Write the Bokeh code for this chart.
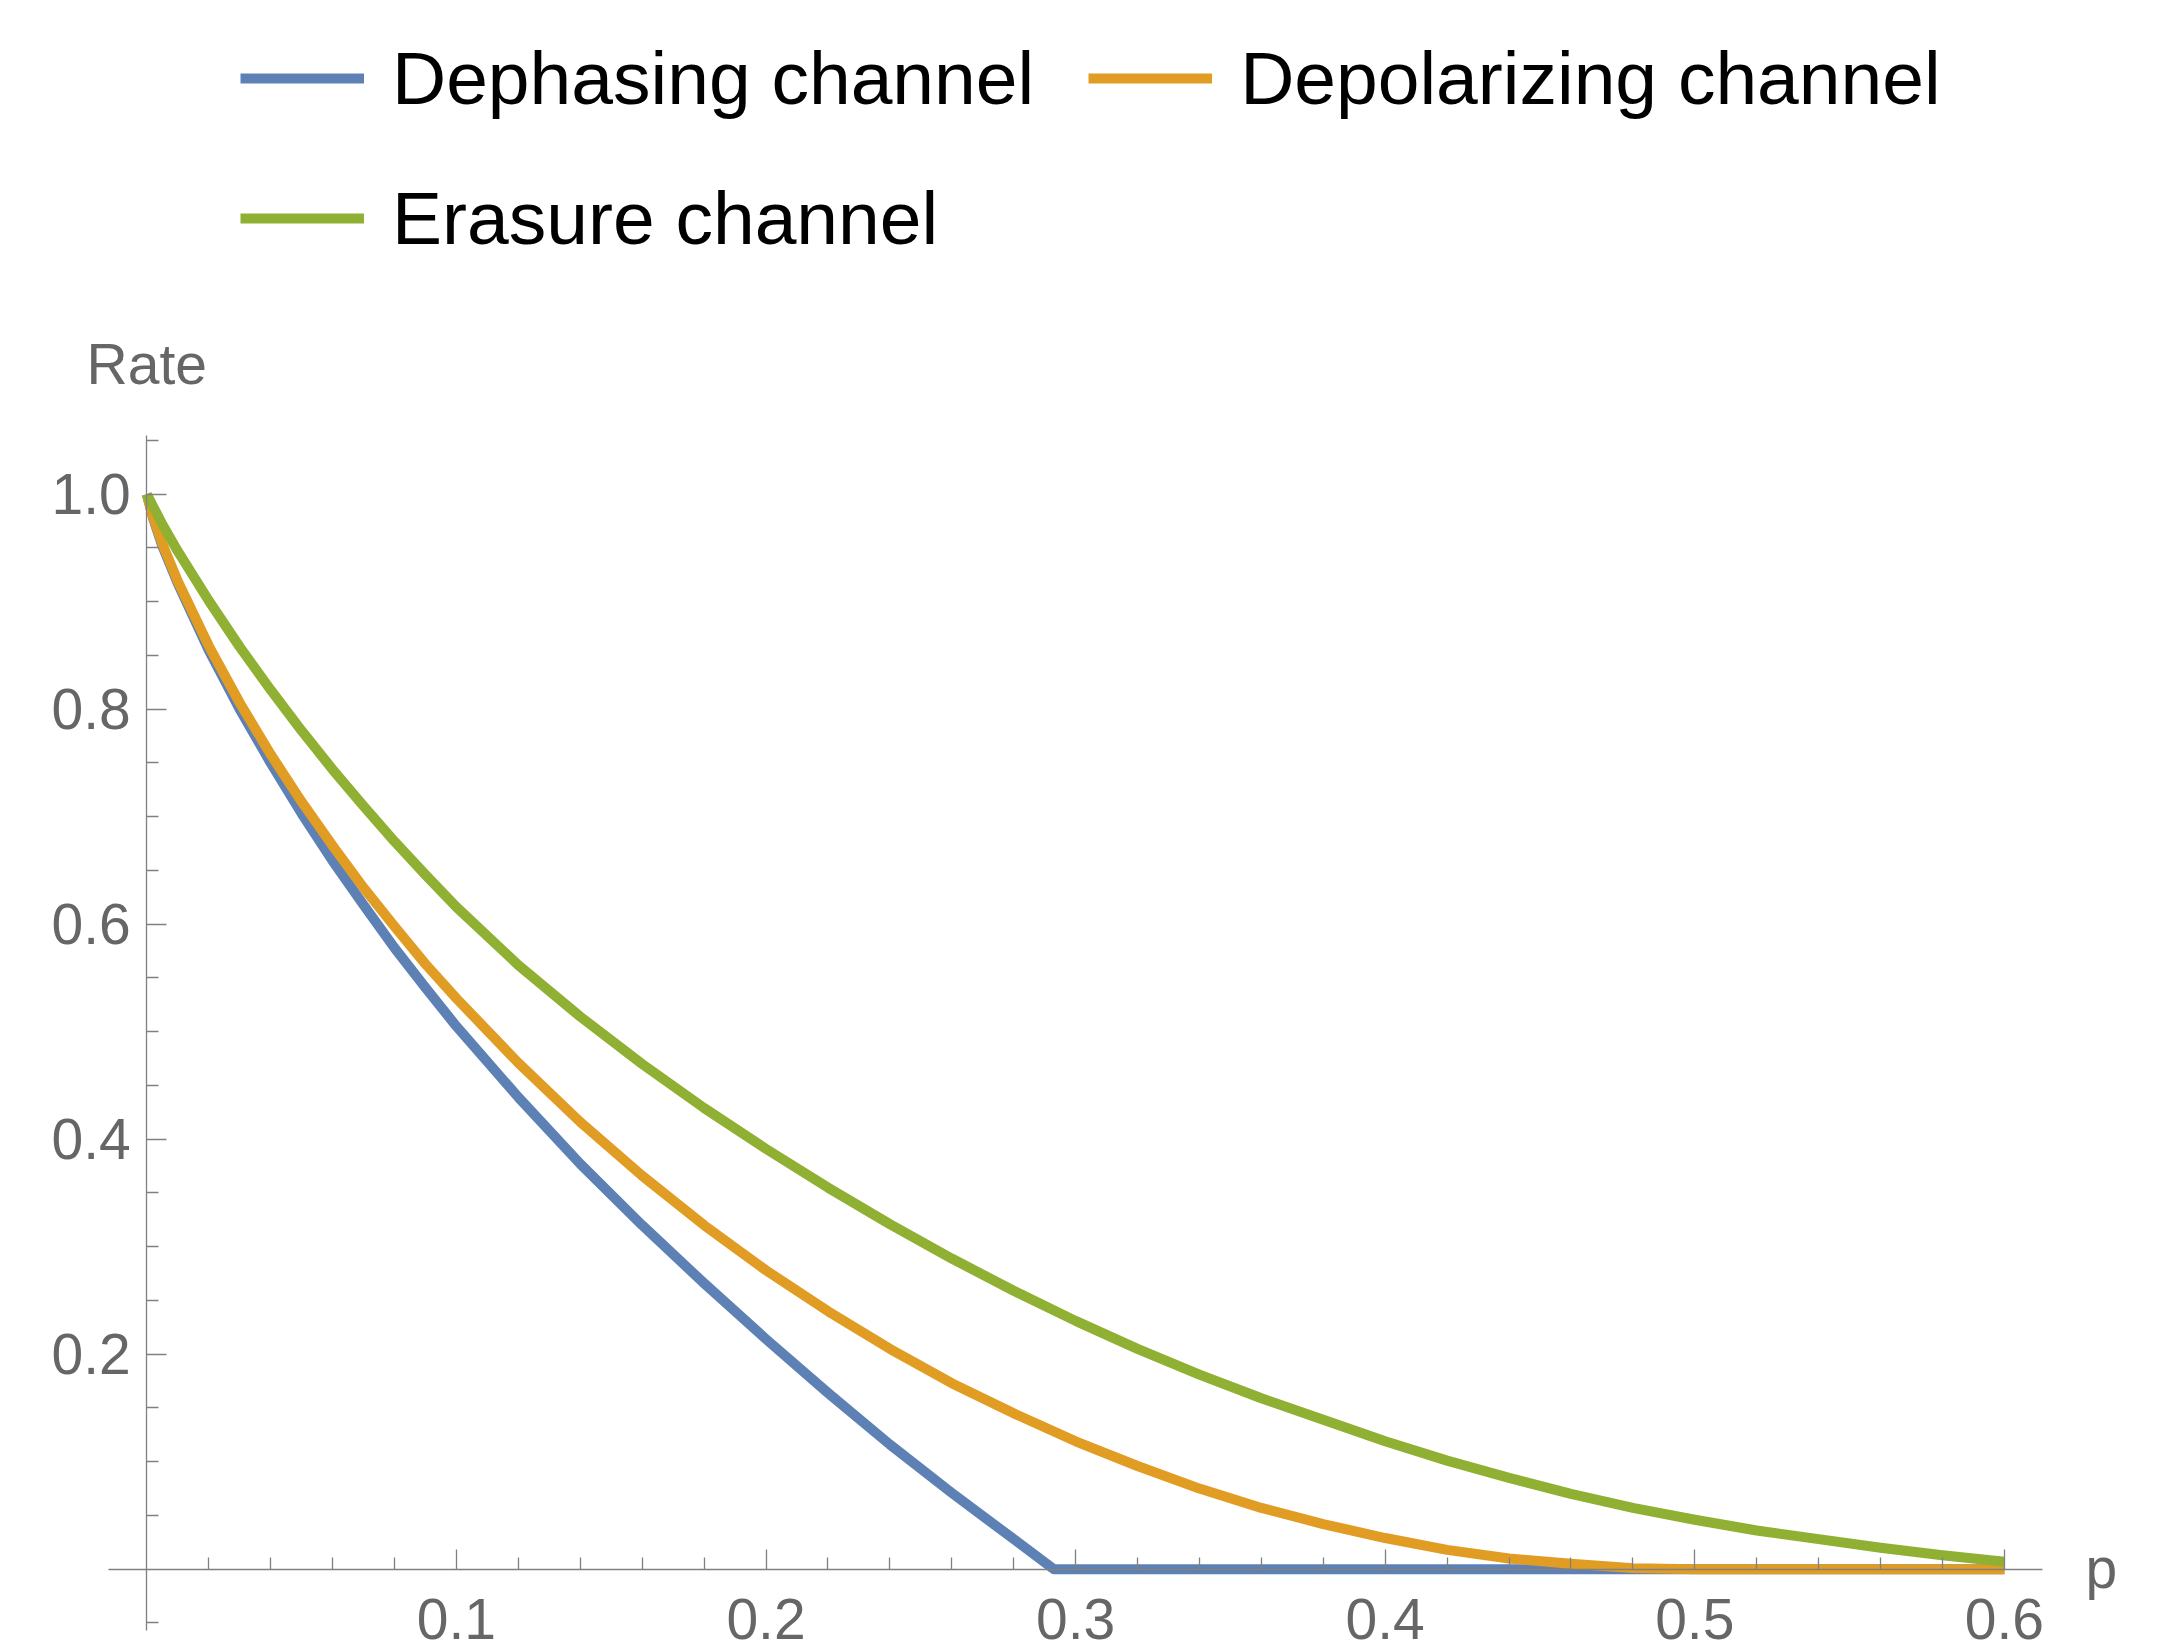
from bokeh.plotting import figure
from bokeh.models import (LinearAxis, FixedTicker, Range1d, Legend, LegendItem, Label)
from bokeh.embed import file_html
from bokeh.resources import INLINE

# ---------------- data ----------------
p_deph = [0, 0.002, 0.005, 0.01, 0.02, 0.03, 0.04, 0.05, 0.06, 0.07, 0.08, 0.09, 0.10,
          0.12, 0.14, 0.16, 0.18, 0.20, 0.22, 0.24, 0.26, 0.28, 0.293, 0.40, 0.50, 0.60]
r_deph = [1.0, 0.978, 0.952, 0.917, 0.855, 0.800, 0.750, 0.703, 0.659, 0.618, 0.578, 0.541, 0.505,
          0.439, 0.377, 0.320, 0.266, 0.214, 0.164, 0.116, 0.071, 0.028, 0.0, 0.0, 0.0, 0.0]

p_depol = [0, 0.002, 0.005, 0.01, 0.02, 0.03, 0.04, 0.05, 0.06, 0.07, 0.08, 0.09, 0.10,
           0.12, 0.14, 0.16, 0.18, 0.20, 0.22, 0.24, 0.26, 0.28, 0.30, 0.32, 0.34, 0.36,
           0.38, 0.40, 0.42, 0.44, 0.46, 0.48, 0.50, 0.55, 0.60]
r_depol = [1.0, 0.979, 0.954, 0.919, 0.859, 0.806, 0.758, 0.714, 0.673, 0.634, 0.598, 0.563, 0.531,
           0.471, 0.416, 0.366, 0.320, 0.278, 0.240, 0.205, 0.173, 0.145, 0.119, 0.096, 0.075, 0.057,
           0.042, 0.029, 0.018, 0.010, 0.005, 0.001, 0.0, 0.0, 0.0]

p_eras = [0, 0.005, 0.01, 0.02, 0.03, 0.04, 0.05, 0.06, 0.07, 0.08, 0.09, 0.10, 0.12, 0.14,
          0.16, 0.18, 0.20, 0.22, 0.24, 0.26, 0.28, 0.30, 0.32, 0.34, 0.36, 0.38, 0.40, 0.42,
          0.44, 0.46, 0.48, 0.50, 0.52, 0.54, 0.56, 0.58, 0.60]
r_eras = [1.0, 0.972, 0.947, 0.901, 0.858, 0.818, 0.780, 0.744, 0.710, 0.677, 0.646, 0.616, 0.562, 0.514,
          0.470, 0.429, 0.391, 0.355, 0.321, 0.289, 0.259, 0.231, 0.205, 0.181, 0.159, 0.139, 0.119, 0.101,
          0.085, 0.070, 0.057, 0.046, 0.036, 0.028, 0.020, 0.013, 0.007]

series_names = ["Dephasing channel", "Depolarizing channel", "Erasure channel"]
series_colors = ["#5E81B5", "#E19C24", "#8FB032"]

x_major = [0.1, 0.2, 0.3, 0.4, 0.5, 0.6]
x_major_labels = ["0.1", "0.2", "0.3", "0.4", "0.5", "0.6"]
x_minor = [0.02, 0.04, 0.06, 0.08, 0.12, 0.14, 0.16, 0.18, 0.22, 0.24, 0.26, 0.28,
           0.32, 0.34, 0.36, 0.38, 0.42, 0.44, 0.46, 0.48, 0.52, 0.54, 0.56, 0.58]
y_major = [0.2, 0.4, 0.6, 0.8, 1.0]
y_major_labels = ["0.2", "0.4", "0.6", "0.8", "1.0"]
y_minor = [-0.05, 0.05, 0.1, 0.15, 0.25, 0.3, 0.35, 0.45, 0.5, 0.55, 0.65, 0.7, 0.75,
           0.85, 0.9, 0.95, 1.05]

x_axis_bounds = (-0.0125, 0.6124)
y_axis_bounds = (-0.057, 1.0547)

# ---------------- figure ----------------
W, H = 2163, 1650
p = figure(width=W, height=H, output_backend="svg", toolbar_location=None,
           x_range=Range1d(-0.047255, 0.651389), y_range=Range1d(-0.075628, 1.459256),
           x_axis_location=None, y_axis_location=None)
p.min_border_left = 0
p.min_border_right = 0
p.min_border_top = 0
p.min_border_bottom = 0
p.outline_line_color = None
p.background_fill_color = "white"
p.border_fill_color = "white"
p.xgrid.grid_line_color = None
p.ygrid.grid_line_color = None

AX_COLOR = "#808080"
LBL_COLOR = "#666666"
FONT = "Liberation Sans"

xaxis = LinearAxis(fixed_location=0, bounds=x_axis_bounds,
                   ticker=FixedTicker(ticks=x_major, minor_ticks=x_minor),
                   major_label_overrides={v: s for v, s in zip(x_major, x_major_labels)})
yaxis = LinearAxis(fixed_location=0, bounds=y_axis_bounds,
                   ticker=FixedTicker(ticks=y_major, minor_ticks=y_minor),
                   major_label_overrides={v: s for v, s in zip(y_major, y_major_labels)})
for ax in (xaxis, yaxis):
    ax.axis_line_color = AX_COLOR
    ax.axis_line_width = 1.3
    ax.major_tick_line_color = AX_COLOR
    ax.minor_tick_line_color = AX_COLOR
    ax.major_tick_line_width = 1.3
    ax.minor_tick_line_width = 1.3
    ax.major_tick_in = 20
    ax.major_tick_out = 0
    ax.minor_tick_in = 12
    ax.minor_tick_out = 0
    ax.major_label_text_font = FONT
    ax.major_label_text_font_size = "57px"
    ax.major_label_text_color = LBL_COLOR
xaxis.major_label_standoff = 30
yaxis.major_label_standoff = 16
p.add_layout(xaxis, "below")
p.add_layout(yaxis, "left")

# ---------------- curves ----------------
renderers = []
for xs, ys, col in ((p_deph, r_deph, series_colors[0]),
                    (p_depol, r_depol, series_colors[1]),
                    (p_eras, r_eras, series_colors[2])):
    r = p.line(xs, ys, line_color=col, line_width=10, line_cap="butt", line_join="round")
    renderers.append(r)

# ---------------- axis labels ----------------
p.add_layout(Label(x=0, y=1.1207, x_units="data", y_units="data", text="Rate",
                   text_align="center", text_baseline="middle",
                   text_font=FONT, text_font_size="57px", text_color=LBL_COLOR))
p.add_layout(Label(x=0.6262, y=0.0015, x_units="data", y_units="data", text="p",
                   text_align="left", text_baseline="middle",
                   text_font=FONT, text_font_size="57px", text_color=LBL_COLOR))

# ---------------- legend ----------------
def style_legend(lg):
    lg.glyph_width = 124
    lg.glyph_height = 20
    lg.label_standoff = 28
    lg.spacing = 54
    lg.padding = 0
    lg.margin = 0
    lg.border_line_color = None
    lg.background_fill_alpha = 0
    lg.label_text_font = FONT
    lg.label_text_font_size = "75px"
    lg.label_text_color = "black"

leg1 = Legend(items=[LegendItem(label=series_names[0], renderers=[renderers[0]]),
                     LegendItem(label=series_names[1], renderers=[renderers[1]])],
              orientation="horizontal", location=(240, 1529))
leg2 = Legend(items=[LegendItem(label=series_names[2], renderers=[renderers[2]])],
              orientation="horizontal", location=(240, 1389))
style_legend(leg1)
style_legend(leg2)
p.add_layout(leg1)
p.add_layout(leg2)

open("out.html", "w").write(file_html(p, INLINE))
